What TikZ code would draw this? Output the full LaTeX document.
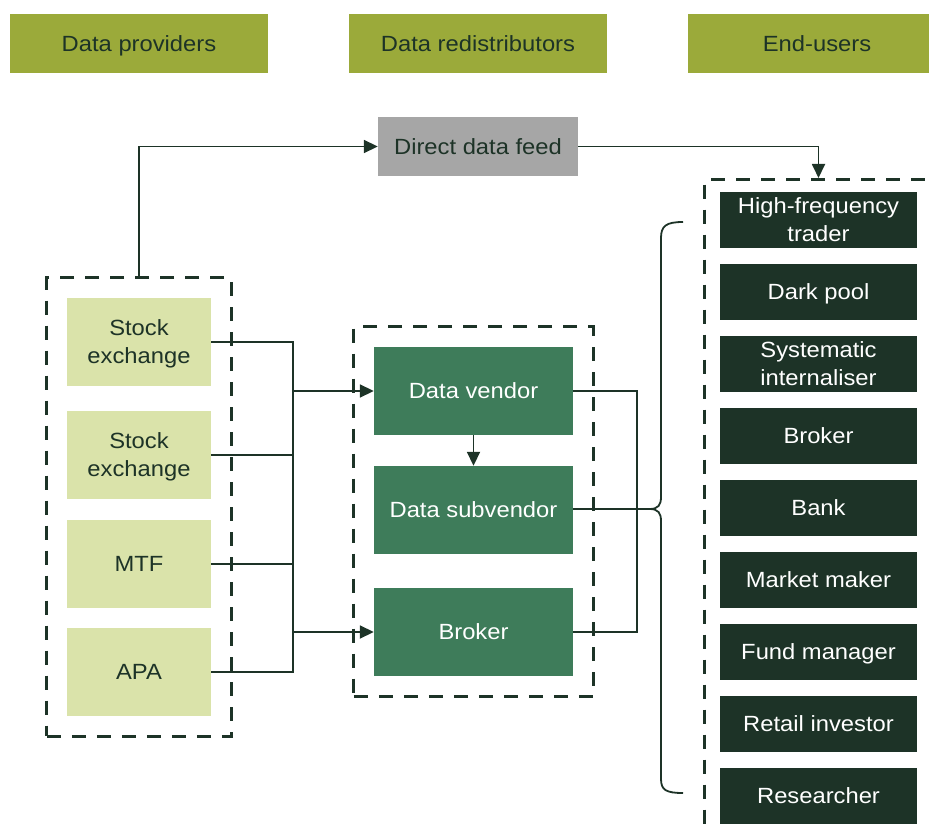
\documentclass[tikz,border=0pt]{standalone}
\usepackage{fontspec}
\setmainfont{Liberation Sans}[FakeStretch=1.08]
\usetikzlibrary{arrows.meta, positioning, fit}
\definecolor{olive}{RGB}{155,170,58}
\definecolor{forest}{RGB}{29,51,39}
\definecolor{leaf}{RGB}{218,227,170}
\definecolor{moss}{RGB}{62,124,90}
\definecolor{feedgray}{RGB}{166,166,166}
\tikzset{
    base/.style={rectangle, inner sep=0pt, align=center, text depth=0pt, font=\fontsize{22}{28}\selectfont},
    header/.style={base, fill=olive, text=forest, minimum width=258pt, minimum height=59pt},
    feedbox/.style={base, fill=feedgray, text=forest, minimum width=200pt, minimum height=59pt},
    provider/.style={base, fill=leaf, text=forest, minimum width=144pt, minimum height=88pt},
    redist/.style={base, fill=moss, text=white, minimum width=199pt, minimum height=88pt},
    enduser/.style={base, fill=forest, text=white, minimum width=197pt, minimum height=56pt},
    group/.style={draw=forest, line width=3.3pt, dash pattern=on 14pt off 11pt, inner sep=20pt},
    line/.style={draw=forest, line width=1.8pt},
    link/.style={line, -{Triangle[length=14pt, width=13pt]}},
}
\begin{document}
\begin{tikzpicture}[x=1pt, y=-1pt, on grid]
    \useasboundingbox (0,0) rectangle (929,834);
    \clip (0,0) rectangle (929,834);
    % headers
    \node[header] (h1) at (139,43.5) {Data providers};
    \node[header] (h2) [right=339pt of h1] {Data redistributors};
    \node[header] (h3) [right=339pt of h2] {End-users};
    \node[feedbox] (feed) at (478,146.5) {Direct data feed};

    % data providers
    \node[provider] (se1) at (139,342) {Stock\\exchange};
    \node[provider] (se2) [below=113pt of se1] {Stock\\exchange};
    \node[provider] (mtf) [below=109pt of se2] {MTF};
    \node[provider] (apa) [below=108pt of mtf] {APA};
    \node[group, fit=(se1)(apa)] (prov) {};

    % data redistributors
    \node[redist] (vendor) at (473.5,391) {Data vendor};
    \node[redist] (subvendor) [below=119pt of vendor] {Data subvendor};
    \node[redist] (broker) [below=122pt of subvendor] {Broker};
    \node[group, fit=(vendor)(broker)] (redis) {};

    % end-users
    \node[enduser] (hft) at (818.5,220) {High-frequency\\trader};
    \node[enduser] (dark) [below=72pt of hft] {Dark pool};
    \node[enduser] (si) [below=72pt of dark] {Systematic\\internaliser};
    \node[enduser] (ubroker) [below=72pt of si] {Broker};
    \node[enduser] (bank) [below=72pt of ubroker] {Bank};
    \node[enduser] (maker) [below=72pt of bank] {Market maker};
    \node[enduser] (fund) [below=72pt of maker] {Fund manager};
    \node[enduser] (retail) [below=72pt of fund] {Retail investor};
    \node[enduser] (research) [below=72pt of retail] {Researcher};
    \node[group, anchor=north west, minimum width=260pt, minimum height=700pt] (users) at (703,178) {};

    % buses
    \coordinate (bus) at (293,0);
    \coordinate (rbus) at (637,0);
    \coordinate (tip) at (652,509);

    % connectors
    \draw[link] (prov.north) |- (feed.west);
    \draw[link] (feed.east) -| (users.north -| hft.north);
    \draw[line] (se1.east) -| (bus |- apa.east) -- (apa.east);
    \draw[line] (se2.east) -- (se2.east -| bus);
    \draw[line] (mtf.east) -- (mtf.east -| bus);
    \draw[link] (vendor.west -| bus) -- (vendor.west);
    \draw[link] (broker.west -| bus) -- (broker.west);
    \draw[link] (vendor.south) -- (subvendor.north);
    \draw[line] (vendor.east) -| (rbus |- broker.east) -- (broker.east);
    \draw[line] (subvendor.east |- tip) -- (tip);

    % brace
    \draw[line] (683,222) .. controls (666,222) and (661,226) .. (661,238)
        -- (661,497) .. controls (661,505) and (658,509) .. (650,509)
        .. controls (658,509) and (661,513) .. (661,521)
        -- (661,779) .. controls (661,790) and (666,793) .. (683,793);
\end{tikzpicture}
\end{document}
